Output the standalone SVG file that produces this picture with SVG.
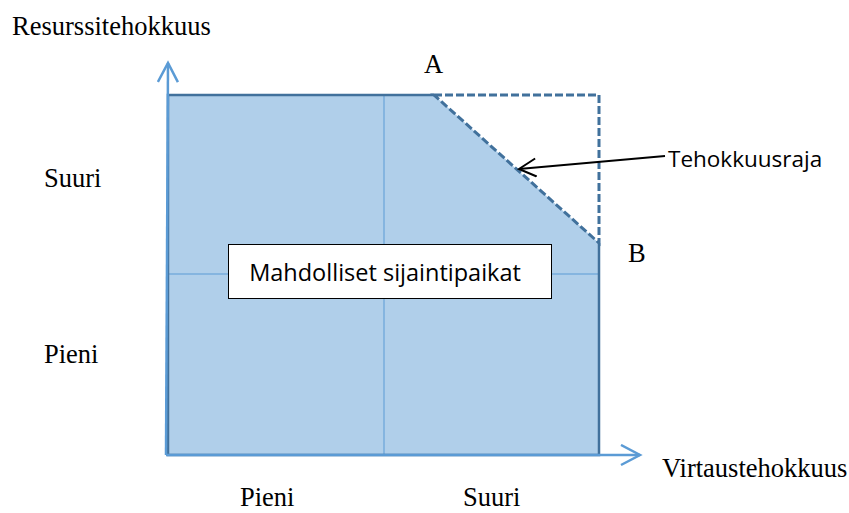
<svg xmlns="http://www.w3.org/2000/svg" width="849" height="513" viewBox="0 0 849 513">
<defs>
<style>
.serif{font-family:"Liberation Serif","Times New Roman",serif;font-size:26.5px;fill:#000}
.sans{font-family:"Open Sans","Liberation Sans",sans-serif;fill:#000}
.axis{stroke:#5B9BD5;stroke-width:2.5;fill:none}
.grid{stroke:#5B9BD5;stroke-width:1;fill:none}
.dash{stroke:#41719C;stroke-width:3;fill:none;stroke-dasharray:8,3}
</style>
<marker id="openArrow" markerWidth="24" markerHeight="24" refX="20" refY="11" orient="auto" markerUnits="userSpaceOnUse">
<path d="M1,1 L20,11 L1,21" fill="none" stroke="#5B9BD5" stroke-width="2.5"/>
</marker>
<marker id="blackArrow" markerWidth="22" markerHeight="22" refX="18" refY="10" orient="auto" markerUnits="userSpaceOnUse">
<path d="M1,1 L18,10 L1,19" fill="none" stroke="#000" stroke-width="2"/>
</marker>
</defs>
<rect width="849" height="513" fill="#fff"/>
<g id="region">
<path d="M168,95 L434,95 L599,243 L599,455 L168,455 Z" fill="#B0CFEA"/>
<line class="grid" x1="384" y1="95" x2="384" y2="455"/>
<line class="grid" x1="168" y1="274" x2="599" y2="274"/>
<path d="M434,95 L168,95 L168,455 L599,455 L599,243" fill="none" stroke="#41719C" stroke-width="2.5"/>
</g>
<g id="frontier">
<path class="dash" d="M434,95 L599,95 L599,243 Z"/>
</g>
<g id="connectors">
<line class="axis" x1="166" y1="455" x2="168" y2="63" marker-end="url(#openArrow)"/>
<line class="axis" x1="166" y1="455" x2="640" y2="455" marker-end="url(#openArrow)"/>
<line x1="665" y1="156" x2="519" y2="169" stroke="#000" stroke-width="2" marker-end="url(#blackArrow)"/>
</g>
<g id="box">
<rect x="228.5" y="244.5" width="323" height="54" fill="#fff" stroke="#000" stroke-width="1"/>
<text class="sans" x="385" y="281" font-size="23.5" text-anchor="middle">Mahdolliset sijaintipaikat</text>
</g>
<g id="label-tehokkuusraja">
<text class="sans" x="668" y="167" font-size="22.5">Tehokkuusraja</text>
</g>
<g id="labels">
<text class="serif" x="12" y="35">Resurssitehokkuus</text>
<text class="serif" x="424" y="73">A</text>
<text class="serif" x="628" y="262">B</text>
<text class="serif" x="44" y="187">Suuri</text>
<text class="serif" x="44" y="363">Pieni</text>
<text class="serif" x="662" y="477">Virtaustehokkuus</text>
<text class="serif" x="240" y="506">Pieni</text>
<text class="serif" x="463" y="506">Suuri</text>
</g>
</svg>
